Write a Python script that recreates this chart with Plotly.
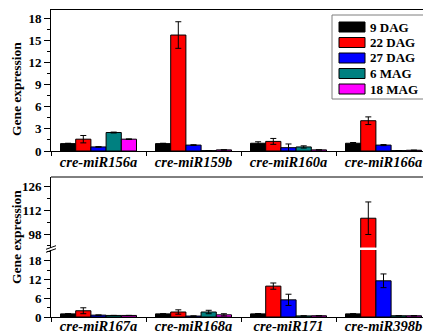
import plotly.graph_objects as go

# ---------------- data ----------------
series_names = ["9 DAG", "22 DAG", "27 DAG", "6 MAG", "18 MAG"]
series_colors = ["#000000", "#FF0000", "#0000FF", "#008080", "#FF00FF"]

cats_top = ["cre-miR156a", "cre-miR159b", "cre-miR160a", "cre-miR166a"]
top_vals = {
    "9 DAG":  [1.0, 1.0, 1.05, 1.05],
    "22 DAG": [1.6, 15.7, 1.3, 4.1],
    "27 DAG": [0.55, 0.8, 0.45, 0.8],
    "6 MAG":  [2.5, 0.05, 0.55, 0.05],
    "18 MAG": [1.6, 0.15, 0.15, 0.1],
}
top_errs = {
    "9 DAG":  [0.05, 0.05, 0.2, 0.1],
    "22 DAG": [0.5, 1.8, 0.4, 0.52],
    "27 DAG": [0.04, 0.05, 0.5, 0.07],
    "6 MAG":  [0.06, 0.0, 0.15, 0.0],
    "18 MAG": [0.04, 0.0, 0.0, 0.0],
}

cats_bot = ["cre-miR167a", "cre-miR168a", "cre-miR171", "cre-miR398b"]
bot_vals = {
    "9 DAG":  [1.0, 1.0, 1.0, 1.0],
    "22 DAG": [2.0, 1.6, 9.9, 107.2],
    "27 DAG": [0.6, 0.3, 5.5, 11.6],
    "6 MAG":  [0.5, 1.6, 0.35, 0.4],
    "18 MAG": [0.5, 0.7, 0.4, 0.4],
}
bot_errs = {
    "9 DAG":  [0.05, 0.05, 0.1, 0.05],
    "22 DAG": [0.95, 0.7, 1.0, 9.5],
    "27 DAG": [0.05, 0.05, 1.8, 2.2],
    "6 MAG":  [0.0, 0.55, 0.0, 0.0],
    "18 MAG": [0.0, 0.35, 0.0, 0.0],
}

y_title = "Gene expression"
top_ticks = [0, 3, 6, 9, 12, 15, 18]
upper_ticks = [98, 112, 126]
lower_ticks = [0, 6, 12, 18]

# ---------------- layout helpers (pixels -> paper) ----------------
W, H = 431, 334
L, R, T, B = 43, 8, 2, 25
PW, PH = W - L - R, H - T - B


def px(x):
    return (x - L) / PW


def py(y):
    return (H - B - y) / PH


FONT = "Liberation Serif"

fig = go.Figure()

for name, col in zip(series_names, series_colors):
    common = dict(
        name=name,
        marker=dict(color=col, line=dict(color="black", width=1)),
        showlegend=False,
    )
    fig.add_trace(go.Bar(
        x=cats_top, y=top_vals[name],
        error_y=dict(type="data", array=top_errs[name], color="black", thickness=1, width=3),
        xaxis="x", yaxis="y", **common))
    fig.add_trace(go.Bar(
        x=cats_bot, y=bot_vals[name],
        error_y=dict(type="data", array=bot_errs[name], color="black", thickness=1, width=3),
        xaxis="x2", yaxis="y2", **common))
    fig.add_trace(go.Bar(
        x=cats_bot, y=bot_vals[name],
        error_y=dict(type="data", array=bot_errs[name], color="black", thickness=1, width=3),
        xaxis="x2", yaxis="y3", **common))

tickfont = dict(family=FONT, size=13, color="black", weight="bold")
catfont = dict(family=FONT, size=14.5, color="black", weight="bold", style="italic")

yax_common = dict(
    showline=True, linecolor="black", linewidth=1, mirror=True,
    ticks="outside", ticklen=6, tickwidth=1, tickcolor="black",
    showgrid=False, zeroline=False, tickfont=tickfont, fixedrange=True,
    minor=dict(ticks="outside", ticklen=3, tickwidth=1, tickcolor="black", showgrid=False),
)
xax_common = dict(
    showline=True, linecolor="black", linewidth=1,
    ticks="outside", ticklen=4, tickwidth=1, tickcolor="black", tickson="boundaries",
    showgrid=False, zeroline=False, tickfont=catfont, fixedrange=True,
)

fig.update_layout(
    width=W, height=H,
    margin=dict(l=L, r=R, t=T, b=B),
    paper_bgcolor="white", plot_bgcolor="white",
    barmode="group", bargap=0.2, bargroupgap=0,
    font=dict(family=FONT, color="black"),
    xaxis=dict(domain=[0, 1], anchor="y", mirror=True, ticklabelstandoff=-2, **xax_common),
    yaxis=dict(domain=[py(143), 1], anchor="x", range=[0, 19.09],
               tickvals=top_ticks, minor_dtick=1.5, minor_tick0=0, **yax_common),
    xaxis2=dict(domain=[0, 1], anchor="y3", mirror=False, ticklabelstandoff=-4, **xax_common),
    yaxis2=dict(domain=[py(239.5), py(169)], anchor="x2", range=[90.12, 131.26],
                tickvals=upper_ticks, minor_dtick=7, minor_tick0=98, **yax_common),
    yaxis3=dict(domain=[0, py(242)], anchor="x2", range=[0, 21.47],
                tickvals=lower_ticks, minor_dtick=3, minor_tick0=0, **yax_common),
)

shapes = []
# top border of lower panel
shapes.append(dict(type="line", xref="paper", yref="paper", x0=0, x1=1,
                   y0=py(169), y1=py(169), line=dict(color="black", width=1)))
# axis break marks (left and right)
for xc in (43, 423):
    for yy in (239.5, 242.5):
        shapes.append(dict(type="line", xref="paper", yref="paper",
                           x0=px(xc - 5), y0=py(yy + 1.8), x1=px(xc + 5), y1=py(yy - 1.8),
                           line=dict(color="black", width=1)))

# legend box (manual, wide swatches)
shapes.append(dict(type="rect", xref="paper", yref="paper",
                   x0=px(324), x1=px(417), y0=py(91), y1=py(7),
                   line=dict(color="#7f7f7f", width=1), fillcolor="white"))
annotations = []
leg_y = [19, 34.5, 50, 65.5, 81]
for name, col, yc in zip(series_names, series_colors, leg_y):
    shapes.append(dict(type="rect", xref="paper", yref="paper",
                       x0=px(331), x1=px(357), y0=py(yc + 5), y1=py(yc - 5),
                       line=dict(color="black", width=1), fillcolor=col))
    annotations.append(dict(text=name, xref="paper", yref="paper",
                            x=px(360), y=py(yc), xanchor="left", yanchor="middle",
                            showarrow=False,
                            font=dict(family=FONT, size=13, color="black", weight="bold")))

# y-axis titles
for yc in (81, 229):
    annotations.append(dict(text=y_title, xref="paper", yref="paper",
                            x=px(8), y=py(yc), xanchor="center", yanchor="middle",
                            textangle=-90, showarrow=False,
                            font=dict(family=FONT, size=13.5, color="black", weight="bold")))

fig.update_layout(shapes=shapes, annotations=annotations)

fig.write_html("out.html")
